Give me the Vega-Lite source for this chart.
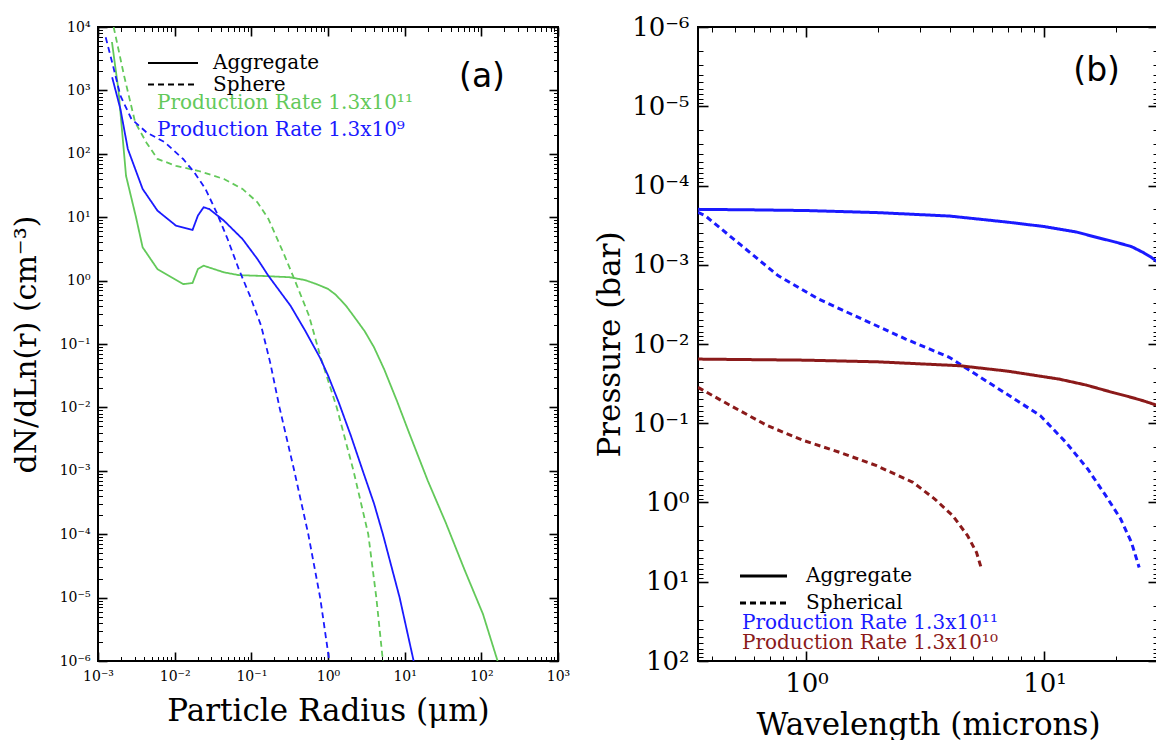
{
  "$schema": "https://vega.github.io/schema/vega-lite/v6.json",
  "background": "white",
  "autosize": {"type": "pad"},
  "padding": {"left": 10, "top": 13, "right": 0, "bottom": 0},
  "spacing": 140,
  "bounds": "flush",
  "datasets": {
    "a": [
      {"r": 0.00152, "n": 5800, "rate": "Production Rate 1.3x10¹¹", "type": "Aggregate"},
      {"r": 0.00185, "n": 1000, "rate": "Production Rate 1.3x10¹¹", "type": "Aggregate"},
      {"r": 0.00219, "n": 100, "rate": "Production Rate 1.3x10¹¹", "type": "Aggregate"},
      {"r": 0.00232, "n": 45, "rate": "Production Rate 1.3x10¹¹", "type": "Aggregate"},
      {"r": 0.00313, "n": 10, "rate": "Production Rate 1.3x10¹¹", "type": "Aggregate"},
      {"r": 0.00382, "n": 3.35, "rate": "Production Rate 1.3x10¹¹", "type": "Aggregate"},
      {"r": 0.00596, "n": 1.52, "rate": "Production Rate 1.3x10¹¹", "type": "Aggregate"},
      {"r": 0.0129, "n": 0.88, "rate": "Production Rate 1.3x10¹¹", "type": "Aggregate"},
      {"r": 0.0171, "n": 0.916, "rate": "Production Rate 1.3x10¹¹", "type": "Aggregate"},
      {"r": 0.0201, "n": 1.52, "rate": "Production Rate 1.3x10¹¹", "type": "Aggregate"},
      {"r": 0.0238, "n": 1.72, "rate": "Production Rate 1.3x10¹¹", "type": "Aggregate"},
      {"r": 0.044, "n": 1.35, "rate": "Production Rate 1.3x10¹¹", "type": "Aggregate"},
      {"r": 0.0686, "n": 1.22, "rate": "Production Rate 1.3x10¹¹", "type": "Aggregate"},
      {"r": 0.15, "n": 1.18, "rate": "Production Rate 1.3x10¹¹", "type": "Aggregate"},
      {"r": 0.316, "n": 1.13, "rate": "Production Rate 1.3x10¹¹", "type": "Aggregate"},
      {"r": 0.5, "n": 1.02, "rate": "Production Rate 1.3x10¹¹", "type": "Aggregate"},
      {"r": 0.708, "n": 0.88, "rate": "Production Rate 1.3x10¹¹", "type": "Aggregate"},
      {"r": 1.0, "n": 0.74, "rate": "Production Rate 1.3x10¹¹", "type": "Aggregate"},
      {"r": 1.26, "n": 0.6, "rate": "Production Rate 1.3x10¹¹", "type": "Aggregate"},
      {"r": 1.72, "n": 0.4, "rate": "Production Rate 1.3x10¹¹", "type": "Aggregate"},
      {"r": 2.24, "n": 0.26, "rate": "Production Rate 1.3x10¹¹", "type": "Aggregate"},
      {"r": 3.0, "n": 0.16, "rate": "Production Rate 1.3x10¹¹", "type": "Aggregate"},
      {"r": 3.98, "n": 0.089, "rate": "Production Rate 1.3x10¹¹", "type": "Aggregate"},
      {"r": 5.4, "n": 0.04, "rate": "Production Rate 1.3x10¹¹", "type": "Aggregate"},
      {"r": 7.94, "n": 0.0126, "rate": "Production Rate 1.3x10¹¹", "type": "Aggregate"},
      {"r": 11.4, "n": 0.004, "rate": "Production Rate 1.3x10¹¹", "type": "Aggregate"},
      {"r": 20, "n": 0.0007, "rate": "Production Rate 1.3x10¹¹", "type": "Aggregate"},
      {"r": 34.5, "n": 0.00015, "rate": "Production Rate 1.3x10¹¹", "type": "Aggregate"},
      {"r": 60, "n": 0.000028, "rate": "Production Rate 1.3x10¹¹", "type": "Aggregate"},
      {"r": 105, "n": 0.0000055, "rate": "Production Rate 1.3x10¹¹", "type": "Aggregate"},
      {"r": 163, "n": 0.000001, "rate": "Production Rate 1.3x10¹¹", "type": "Aggregate"},

      {"r": 0.0016, "n": 10000, "rate": "Production Rate 1.3x10¹¹", "type": "Sphere"},
      {"r": 0.00219, "n": 1700, "rate": "Production Rate 1.3x10¹¹", "type": "Sphere"},
      {"r": 0.00305, "n": 314, "rate": "Production Rate 1.3x10¹¹", "type": "Sphere"},
      {"r": 0.00427, "n": 151, "rate": "Production Rate 1.3x10¹¹", "type": "Sphere"},
      {"r": 0.00596, "n": 83, "rate": "Production Rate 1.3x10¹¹", "type": "Sphere"},
      {"r": 0.0104, "n": 64.6, "rate": "Production Rate 1.3x10¹¹", "type": "Sphere"},
      {"r": 0.0201, "n": 54, "rate": "Production Rate 1.3x10¹¹", "type": "Sphere"},
      {"r": 0.044, "n": 40, "rate": "Production Rate 1.3x10¹¹", "type": "Sphere"},
      {"r": 0.0767, "n": 27.9, "rate": "Production Rate 1.3x10¹¹", "type": "Sphere"},
      {"r": 0.12, "n": 17.2, "rate": "Production Rate 1.3x10¹¹", "type": "Sphere"},
      {"r": 0.167, "n": 9.4, "rate": "Production Rate 1.3x10¹¹", "type": "Sphere"},
      {"r": 0.26, "n": 2.8, "rate": "Production Rate 1.3x10¹¹", "type": "Sphere"},
      {"r": 0.363, "n": 1.06, "rate": "Production Rate 1.3x10¹¹", "type": "Sphere"},
      {"r": 0.565, "n": 0.28, "rate": "Production Rate 1.3x10¹¹", "type": "Sphere"},
      {"r": 0.79, "n": 0.0655, "rate": "Production Rate 1.3x10¹¹", "type": "Sphere"},
      {"r": 1.3, "n": 0.01, "rate": "Production Rate 1.3x10¹¹", "type": "Sphere"},
      {"r": 2.15, "n": 0.001, "rate": "Production Rate 1.3x10¹¹", "type": "Sphere"},
      {"r": 3.35, "n": 0.0001, "rate": "Production Rate 1.3x10¹¹", "type": "Sphere"},
      {"r": 4.27, "n": 0.00001, "rate": "Production Rate 1.3x10¹¹", "type": "Sphere"},
      {"r": 5.2, "n": 0.000001, "rate": "Production Rate 1.3x10¹¹", "type": "Sphere"},

      {"r": 0.00153, "n": 1610, "rate": "Production Rate 1.3x10⁹", "type": "Aggregate"},
      {"r": 0.00196, "n": 509, "rate": "Production Rate 1.3x10⁹", "type": "Aggregate"},
      {"r": 0.00245, "n": 119, "rate": "Production Rate 1.3x10⁹", "type": "Aggregate"},
      {"r": 0.00382, "n": 27.9, "rate": "Production Rate 1.3x10⁹", "type": "Aggregate"},
      {"r": 0.00596, "n": 12.7, "rate": "Production Rate 1.3x10⁹", "type": "Aggregate"},
      {"r": 0.0104, "n": 7.35, "rate": "Production Rate 1.3x10⁹", "type": "Aggregate"},
      {"r": 0.0171, "n": 6.28, "rate": "Production Rate 1.3x10⁹", "type": "Aggregate"},
      {"r": 0.0201, "n": 10.6, "rate": "Production Rate 1.3x10⁹", "type": "Aggregate"},
      {"r": 0.0238, "n": 14.3, "rate": "Production Rate 1.3x10⁹", "type": "Aggregate"},
      {"r": 0.0282, "n": 13.5, "rate": "Production Rate 1.3x10⁹", "type": "Aggregate"},
      {"r": 0.044, "n": 8.8, "rate": "Production Rate 1.3x10⁹", "type": "Aggregate"},
      {"r": 0.0767, "n": 4.53, "rate": "Production Rate 1.3x10⁹", "type": "Aggregate"},
      {"r": 0.12, "n": 2.19, "rate": "Production Rate 1.3x10⁹", "type": "Aggregate"},
      {"r": 0.167, "n": 1.19, "rate": "Production Rate 1.3x10⁹", "type": "Aggregate"},
      {"r": 0.325, "n": 0.4, "rate": "Production Rate 1.3x10⁹", "type": "Aggregate"},
      {"r": 0.507, "n": 0.16, "rate": "Production Rate 1.3x10⁹", "type": "Aggregate"},
      {"r": 0.79, "n": 0.06, "rate": "Production Rate 1.3x10⁹", "type": "Aggregate"},
      {"r": 1.0, "n": 0.032, "rate": "Production Rate 1.3x10⁹", "type": "Aggregate"},
      {"r": 1.38, "n": 0.012, "rate": "Production Rate 1.3x10⁹", "type": "Aggregate"},
      {"r": 2.0, "n": 0.0035, "rate": "Production Rate 1.3x10⁹", "type": "Aggregate"},
      {"r": 2.84, "n": 0.001, "rate": "Production Rate 1.3x10⁹", "type": "Aggregate"},
      {"r": 4.0, "n": 0.0003, "rate": "Production Rate 1.3x10⁹", "type": "Aggregate"},
      {"r": 5.2, "n": 0.0001, "rate": "Production Rate 1.3x10⁹", "type": "Aggregate"},
      {"r": 8.6, "n": 0.00001, "rate": "Production Rate 1.3x10⁹", "type": "Aggregate"},
      {"r": 13.1, "n": 0.000001, "rate": "Production Rate 1.3x10⁹", "type": "Aggregate"},

      {"r": 0.00126, "n": 6880, "rate": "Production Rate 1.3x10⁹", "type": "Sphere"},
      {"r": 0.00157, "n": 2450, "rate": "Production Rate 1.3x10⁹", "type": "Sphere"},
      {"r": 0.00196, "n": 824, "rate": "Production Rate 1.3x10⁹", "type": "Sphere"},
      {"r": 0.00273, "n": 354, "rate": "Production Rate 1.3x10⁹", "type": "Sphere"},
      {"r": 0.00427, "n": 219, "rate": "Production Rate 1.3x10⁹", "type": "Sphere"},
      {"r": 0.00743, "n": 152, "rate": "Production Rate 1.3x10⁹", "type": "Sphere"},
      {"r": 0.0129, "n": 82.8, "rate": "Production Rate 1.3x10⁹", "type": "Sphere"},
      {"r": 0.018, "n": 51, "rate": "Production Rate 1.3x10⁹", "type": "Sphere"},
      {"r": 0.0252, "n": 27.9, "rate": "Production Rate 1.3x10⁹", "type": "Sphere"},
      {"r": 0.0352, "n": 11.9, "rate": "Production Rate 1.3x10⁹", "type": "Sphere"},
      {"r": 0.049, "n": 4.53, "rate": "Production Rate 1.3x10⁹", "type": "Sphere"},
      {"r": 0.0686, "n": 1.52, "rate": "Production Rate 1.3x10⁹", "type": "Sphere"},
      {"r": 0.0957, "n": 0.578, "rate": "Production Rate 1.3x10⁹", "type": "Sphere"},
      {"r": 0.134, "n": 0.195, "rate": "Production Rate 1.3x10⁹", "type": "Sphere"},
      {"r": 0.176, "n": 0.0513, "rate": "Production Rate 1.3x10⁹", "type": "Sphere"},
      {"r": 0.233, "n": 0.01, "rate": "Production Rate 1.3x10⁹", "type": "Sphere"},
      {"r": 0.363, "n": 0.001, "rate": "Production Rate 1.3x10⁹", "type": "Sphere"},
      {"r": 0.553, "n": 0.0001, "rate": "Production Rate 1.3x10⁹", "type": "Sphere"},
      {"r": 0.79, "n": 0.00001, "rate": "Production Rate 1.3x10⁹", "type": "Sphere"},
      {"r": 1.04, "n": 0.000001, "rate": "Production Rate 1.3x10⁹", "type": "Sphere"}
    ],
    "b": [
      {"w": 0.35, "p": 0.0002, "rate": "Production Rate 1.3x10¹¹", "type": "Aggregate"},
      {"w": 0.6, "p": 0.000203, "rate": "Production Rate 1.3x10¹¹", "type": "Aggregate"},
      {"w": 1, "p": 0.000207, "rate": "Production Rate 1.3x10¹¹", "type": "Aggregate"},
      {"w": 2, "p": 0.00022, "rate": "Production Rate 1.3x10¹¹", "type": "Aggregate"},
      {"w": 4, "p": 0.000243, "rate": "Production Rate 1.3x10¹¹", "type": "Aggregate"},
      {"w": 7, "p": 0.00029, "rate": "Production Rate 1.3x10¹¹", "type": "Aggregate"},
      {"w": 10, "p": 0.00033, "rate": "Production Rate 1.3x10¹¹", "type": "Aggregate"},
      {"w": 13.6, "p": 0.000386, "rate": "Production Rate 1.3x10¹¹", "type": "Aggregate"},
      {"w": 17, "p": 0.00046, "rate": "Production Rate 1.3x10¹¹", "type": "Aggregate"},
      {"w": 20, "p": 0.00052, "rate": "Production Rate 1.3x10¹¹", "type": "Aggregate"},
      {"w": 23.2, "p": 0.00059, "rate": "Production Rate 1.3x10¹¹", "type": "Aggregate"},
      {"w": 26, "p": 0.0007, "rate": "Production Rate 1.3x10¹¹", "type": "Aggregate"},
      {"w": 28, "p": 0.0008, "rate": "Production Rate 1.3x10¹¹", "type": "Aggregate"},
      {"w": 30, "p": 0.00093, "rate": "Production Rate 1.3x10¹¹", "type": "Aggregate"},

      {"w": 0.35, "p": 0.000218, "rate": "Production Rate 1.3x10¹¹", "type": "Spherical"},
      {"w": 0.375, "p": 0.00024, "rate": "Production Rate 1.3x10¹¹", "type": "Spherical"},
      {"w": 0.534, "p": 0.000575, "rate": "Production Rate 1.3x10¹¹", "type": "Spherical"},
      {"w": 0.759, "p": 0.00137, "rate": "Production Rate 1.3x10¹¹", "type": "Spherical"},
      {"w": 1.12, "p": 0.0027, "rate": "Production Rate 1.3x10¹¹", "type": "Spherical"},
      {"w": 1.71, "p": 0.00484, "rate": "Production Rate 1.3x10¹¹", "type": "Spherical"},
      {"w": 2.61, "p": 0.00865, "rate": "Production Rate 1.3x10¹¹", "type": "Spherical"},
      {"w": 3.98, "p": 0.0147, "rate": "Production Rate 1.3x10¹¹", "type": "Spherical"},
      {"w": 4.75, "p": 0.0207, "rate": "Production Rate 1.3x10¹¹", "type": "Spherical"},
      {"w": 6.76, "p": 0.0407, "rate": "Production Rate 1.3x10¹¹", "type": "Spherical"},
      {"w": 9.6, "p": 0.08, "rate": "Production Rate 1.3x10¹¹", "type": "Spherical"},
      {"w": 12.3, "p": 0.174, "rate": "Production Rate 1.3x10¹¹", "type": "Spherical"},
      {"w": 15.2, "p": 0.378, "rate": "Production Rate 1.3x10¹¹", "type": "Spherical"},
      {"w": 18.1, "p": 0.82, "rate": "Production Rate 1.3x10¹¹", "type": "Spherical"},
      {"w": 20.9, "p": 1.61, "rate": "Production Rate 1.3x10¹¹", "type": "Spherical"},
      {"w": 23.2, "p": 3.18, "rate": "Production Rate 1.3x10¹¹", "type": "Spherical"},
      {"w": 25.0, "p": 6.6, "rate": "Production Rate 1.3x10¹¹", "type": "Spherical"},

      {"w": 0.35, "p": 0.0155, "rate": "Production Rate 1.3x10¹⁰", "type": "Aggregate"},
      {"w": 1, "p": 0.016, "rate": "Production Rate 1.3x10¹⁰", "type": "Aggregate"},
      {"w": 2, "p": 0.0168, "rate": "Production Rate 1.3x10¹⁰", "type": "Aggregate"},
      {"w": 4.4, "p": 0.0188, "rate": "Production Rate 1.3x10¹⁰", "type": "Aggregate"},
      {"w": 7, "p": 0.022, "rate": "Production Rate 1.3x10¹⁰", "type": "Aggregate"},
      {"w": 11.5, "p": 0.0277, "rate": "Production Rate 1.3x10¹⁰", "type": "Aggregate"},
      {"w": 15, "p": 0.033, "rate": "Production Rate 1.3x10¹⁰", "type": "Aggregate"},
      {"w": 19.4, "p": 0.041, "rate": "Production Rate 1.3x10¹⁰", "type": "Aggregate"},
      {"w": 22.5, "p": 0.046, "rate": "Production Rate 1.3x10¹⁰", "type": "Aggregate"},
      {"w": 26, "p": 0.052, "rate": "Production Rate 1.3x10¹⁰", "type": "Aggregate"},
      {"w": 30, "p": 0.06, "rate": "Production Rate 1.3x10¹⁰", "type": "Aggregate"},

      {"w": 0.35, "p": 0.0353, "rate": "Production Rate 1.3x10¹⁰", "type": "Spherical"},
      {"w": 0.48, "p": 0.06, "rate": "Production Rate 1.3x10¹⁰", "type": "Spherical"},
      {"w": 0.684, "p": 0.107, "rate": "Production Rate 1.3x10¹⁰", "type": "Spherical"},
      {"w": 0.971, "p": 0.165, "rate": "Production Rate 1.3x10¹⁰", "type": "Spherical"},
      {"w": 1.38, "p": 0.233, "rate": "Production Rate 1.3x10¹⁰", "type": "Spherical"},
      {"w": 1.97, "p": 0.343, "rate": "Production Rate 1.3x10¹⁰", "type": "Spherical"},
      {"w": 2.8, "p": 0.556, "rate": "Production Rate 1.3x10¹⁰", "type": "Spherical"},
      {"w": 3.46, "p": 0.904, "rate": "Production Rate 1.3x10¹⁰", "type": "Spherical"},
      {"w": 4.12, "p": 1.47, "rate": "Production Rate 1.3x10¹⁰", "type": "Spherical"},
      {"w": 4.75, "p": 2.62, "rate": "Production Rate 1.3x10¹⁰", "type": "Spherical"},
      {"w": 5.18, "p": 4.26, "rate": "Production Rate 1.3x10¹⁰", "type": "Spherical"},
      {"w": 5.43, "p": 6.78, "rate": "Production Rate 1.3x10¹⁰", "type": "Spherical"}
    ]
  },
  "hconcat": [
    {
      "width": 460,
      "height": 634,
      "data": {"name": "a"},
      "title": {"text": "(a)", "anchor": "end", "frame": "group", "orient": "top", "font": "DejaVu Sans", "fontSize": 33, "fontWeight": "normal", "color": "black", "offset": 0, "baseline": "alphabetic", "dx": -53, "dy": 100},
      "layer": [
        {
          "mark": {"type": "line", "clip": true, "strokeWidth": 1.8},
          "encoding": {
            "x": {
              "field": "r", "type": "quantitative",
              "scale": {"type": "log", "domain": [0.001, 1000], "nice": false},
              "axis": {
                "orient": "bottom", "title": "Particle Radius (μm)", "titleFontSize": 31, "titlePadding": 9,
                "values": [0.001,0.002,0.003,0.004,0.005,0.006,0.007,0.008,0.009,0.01,0.02,0.03,0.04,0.05,0.06,0.07,0.08,0.09,0.1,0.2,0.3,0.4,0.5,0.6,0.7,0.8,0.9,1,2,3,4,5,6,7,8,9,10,20,30,40,50,60,70,80,90,100,200,300,400,500,600,700,800,900,1000],
                "labelExpr": "abs(log(datum.value)/LN10 - round(log(datum.value)/LN10)) < 0.01 ? '10' + replace(replace(replace(replace(replace(replace(replace(replace('' + round(log(datum.value)/LN10), '-', '⁻'), '0', '⁰'), '1', '¹'), '2', '²'), '3', '³'), '4', '⁴'), '5', '⁵'), '6', '⁶') : ''",
                "labelFontSize": 14, "labelPadding": 17,
                "tickSize": {"condition": {"test": "abs(log(datum.value)/LN10 - round(log(datum.value)/LN10)) < 0.01", "value": -9}, "value": -4.5},
                "tickWidth": {"condition": {"test": "abs(log(datum.value)/LN10 - round(log(datum.value)/LN10)) < 0.01", "value": 1.6}, "value": 1}
              }
            },
            "y": {
              "field": "n", "type": "quantitative",
              "scale": {"type": "log", "domain": [0.000001, 10000], "nice": false},
              "axis": {
                "orient": "left", "title": "dN/dLn(r) (cm⁻³)", "titleFontSize": 30, "titlePadding": 18,
                "values": [1e-6,2e-6,3e-6,4e-6,5e-6,6e-6,7e-6,8e-6,9e-6,1e-5,2e-5,3e-5,4e-5,5e-5,6e-5,7e-5,8e-5,9e-5,1e-4,2e-4,3e-4,4e-4,5e-4,6e-4,7e-4,8e-4,9e-4,0.001,0.002,0.003,0.004,0.005,0.006,0.007,0.008,0.009,0.01,0.02,0.03,0.04,0.05,0.06,0.07,0.08,0.09,0.1,0.2,0.3,0.4,0.5,0.6,0.7,0.8,0.9,1,2,3,4,5,6,7,8,9,10,20,30,40,50,60,70,80,90,100,200,300,400,500,600,700,800,900,1000,2000,3000,4000,5000,6000,7000,8000,9000,10000],
                "labelExpr": "abs(log(datum.value)/LN10 - round(log(datum.value)/LN10)) < 0.01 ? '10' + replace(replace(replace(replace(replace(replace(replace(replace('' + round(log(datum.value)/LN10), '-', '⁻'), '0', '⁰'), '1', '¹'), '2', '²'), '3', '³'), '4', '⁴'), '5', '⁵'), '6', '⁶') : ''",
                "labelFontSize": 14, "labelPadding": 17,
                "tickSize": {"condition": {"test": "abs(log(datum.value)/LN10 - round(log(datum.value)/LN10)) < 0.01", "value": -9}, "value": -4.5},
                "tickWidth": {"condition": {"test": "abs(log(datum.value)/LN10 - round(log(datum.value)/LN10)) < 0.01", "value": 1.6}, "value": 1}
              }
            },
            "color": {
              "field": "rate", "type": "nominal",
              "scale": {"domain": ["Production Rate 1.3x10¹¹", "Production Rate 1.3x10⁹"], "range": ["#63c95a", "#1a1aff"]},
              "legend": {"orient": "none", "legendX": 39, "legendY": 66, "title": null, "padding": 0, "symbolOpacity": 0, "symbolSize": 0, "labelOffset": 0, "labelFontSize": 20, "labelLimit": 500, "rowPadding": 6.5,
                "labelColor": {"expr": "indexof(datum.label, '¹¹') >= 0 ? '#63c95a' : '#1a1aff'"}}
            },
            "strokeDash": {
              "field": "type", "type": "nominal",
              "scale": {"domain": ["Aggregate", "Sphere"], "range": [[1, 0], [6, 4]]},
              "legend": {"orient": "none", "legendX": 65, "legendY": 26, "title": null, "padding": 0, "symbolType": "M-5,0H5", "symbolSize": 100, "symbolStrokeWidth": 2, "symbolStrokeColor": "black", "symbolFillColor": "transparent", "labelOffset": 30, "labelFontSize": 20, "labelColor": "black", "rowPadding": 1.5}
            }
          }
        },
        {
          "mark": {"type": "point", "opacity": 0, "clip": true},
          "encoding": {
            "x": {
              "field": "r", "type": "quantitative",
              "scale": {"type": "log", "domain": [0.001, 1000], "nice": false},
              "axis": {
                "orient": "top", "title": null, "labels": false,
                "values": [0.001,0.002,0.003,0.004,0.005,0.006,0.007,0.008,0.009,0.01,0.02,0.03,0.04,0.05,0.06,0.07,0.08,0.09,0.1,0.2,0.3,0.4,0.5,0.6,0.7,0.8,0.9,1,2,3,4,5,6,7,8,9,10,20,30,40,50,60,70,80,90,100,200,300,400,500,600,700,800,900,1000],
                "tickSize": {"condition": {"test": "abs(log(datum.value)/LN10 - round(log(datum.value)/LN10)) < 0.01", "value": -9}, "value": -4.5},
                "tickWidth": {"condition": {"test": "abs(log(datum.value)/LN10 - round(log(datum.value)/LN10)) < 0.01", "value": 1.6}, "value": 1}
              }
            },
            "y": {
              "field": "n", "type": "quantitative",
              "scale": {"type": "log", "domain": [0.000001, 10000], "nice": false},
              "axis": {
                "orient": "right", "title": null, "labels": false,
                "values": [1e-6,2e-6,3e-6,4e-6,5e-6,6e-6,7e-6,8e-6,9e-6,1e-5,2e-5,3e-5,4e-5,5e-5,6e-5,7e-5,8e-5,9e-5,1e-4,2e-4,3e-4,4e-4,5e-4,6e-4,7e-4,8e-4,9e-4,0.001,0.002,0.003,0.004,0.005,0.006,0.007,0.008,0.009,0.01,0.02,0.03,0.04,0.05,0.06,0.07,0.08,0.09,0.1,0.2,0.3,0.4,0.5,0.6,0.7,0.8,0.9,1,2,3,4,5,6,7,8,9,10,20,30,40,50,60,70,80,90,100,200,300,400,500,600,700,800,900,1000,2000,3000,4000,5000,6000,7000,8000,9000,10000],
                "tickSize": {"condition": {"test": "abs(log(datum.value)/LN10 - round(log(datum.value)/LN10)) < 0.01", "value": -9}, "value": -4.5},
                "tickWidth": {"condition": {"test": "abs(log(datum.value)/LN10 - round(log(datum.value)/LN10)) < 0.01", "value": 1.6}, "value": 1}
              }
            }
          }
        }
      ],
      "resolve": {"axis": {"x": "independent", "y": "independent"}}
    },
    {
      "width": 460,
      "height": 634,
      "data": {"name": "b"},
      "title": {"text": "(b)", "anchor": "end", "frame": "group", "orient": "top", "font": "DejaVu Sans", "fontSize": 33, "fontWeight": "normal", "color": "black", "offset": 0, "baseline": "alphabetic", "dx": -38, "dy": 100},
      "layer": [
        {
          "mark": {"type": "line", "clip": true, "strokeWidth": 3},
          "encoding": {
            "x": {
              "field": "w", "type": "quantitative",
              "scale": {"type": "log", "domain": [0.35, 30], "nice": false},
              "axis": {
                "orient": "bottom", "title": "Wavelength (microns)", "titleFontSize": 31, "titlePadding": 9,
                "values": [0.4,0.5,0.6,0.7,0.8,0.9,1,2,3,4,5,6,7,8,9,10,20,30],
                "labelExpr": "abs(log(datum.value)/LN10 - round(log(datum.value)/LN10)) < 0.01 ? '10' + replace(replace(replace(replace(replace(replace(replace(replace('' + round(log(datum.value)/LN10), '-', '⁻'), '0', '⁰'), '1', '¹'), '2', '²'), '3', '³'), '4', '⁴'), '5', '⁵'), '6', '⁶') : ''",
                "labelFontSize": 26, "labelPadding": 19,
                "tickSize": {"condition": {"test": "abs(log(datum.value)/LN10 - round(log(datum.value)/LN10)) < 0.01", "value": -10}, "value": -5},
                "tickWidth": {"condition": {"test": "abs(log(datum.value)/LN10 - round(log(datum.value)/LN10)) < 0.01", "value": 1.6}, "value": 1}
              }
            },
            "y": {
              "field": "p", "type": "quantitative",
              "scale": {"type": "log", "domain": [0.000001, 100], "nice": false, "reverse": true},
              "axis": {
                "orient": "left", "title": "Pressure (bar)", "titleFontSize": 31, "titlePadding": 5,
                "values": [1e-6,2e-6,3e-6,4e-6,5e-6,6e-6,7e-6,8e-6,9e-6,1e-5,2e-5,3e-5,4e-5,5e-5,6e-5,7e-5,8e-5,9e-5,1e-4,2e-4,3e-4,4e-4,5e-4,6e-4,7e-4,8e-4,9e-4,0.001,0.002,0.003,0.004,0.005,0.006,0.007,0.008,0.009,0.01,0.02,0.03,0.04,0.05,0.06,0.07,0.08,0.09,0.1,0.2,0.3,0.4,0.5,0.6,0.7,0.8,0.9,1,2,3,4,5,6,7,8,9,10,20,30,40,50,60,70,80,90,100],
                "labelExpr": "abs(log(datum.value)/LN10 - round(log(datum.value)/LN10)) < 0.01 ? '10' + replace(replace(replace(replace(replace(replace(replace(replace('' + round(log(datum.value)/LN10), '-', '⁻'), '0', '⁰'), '1', '¹'), '2', '²'), '3', '³'), '4', '⁴'), '5', '⁵'), '6', '⁶') : ''",
                "labelFontSize": 26, "labelPadding": 19,
                "tickSize": {"condition": {"test": "abs(log(datum.value)/LN10 - round(log(datum.value)/LN10)) < 0.01", "value": -10}, "value": -5},
                "tickWidth": {"condition": {"test": "abs(log(datum.value)/LN10 - round(log(datum.value)/LN10)) < 0.01", "value": 1.6}, "value": 1}
              }
            },
            "color": {
              "field": "rate", "type": "nominal",
              "scale": {"domain": ["Production Rate 1.3x10¹¹", "Production Rate 1.3x10¹⁰"], "range": ["#1a1aff", "#8b1a1a"]},
              "legend": {"orient": "none", "legendX": 24, "legendY": 586, "title": null, "padding": 0, "symbolOpacity": 0, "symbolSize": 0, "labelOffset": 0, "labelFontSize": 20, "labelLimit": 500, "rowPadding": -4,
                "labelColor": {"expr": "indexof(datum.label, '¹¹') >= 0 ? '#1a1aff' : '#8b1a1a'"}}
            },
            "strokeDash": {
              "field": "type", "type": "nominal",
              "scale": {"domain": ["Aggregate", "Spherical"], "range": [[1, 0], [6, 4]]},
              "legend": {"orient": "none", "legendX": 55.5, "legendY": 539, "title": null, "padding": 0, "symbolType": "M-4.7,0H4.7", "symbolSize": 100, "symbolStrokeWidth": 3, "symbolStrokeColor": "black", "symbolFillColor": "transparent", "labelOffset": 32.5, "labelFontSize": 20, "labelColor": "black", "rowPadding": 7}
            }
          }
        },
        {
          "mark": {"type": "point", "opacity": 0, "clip": true},
          "encoding": {
            "x": {
              "field": "w", "type": "quantitative",
              "scale": {"type": "log", "domain": [0.35, 30], "nice": false},
              "axis": {
                "orient": "top", "title": null, "labels": false,
                "values": [0.4,0.5,0.6,0.7,0.8,0.9,1,2,3,4,5,6,7,8,9,10,20,30],
                "tickSize": {"condition": {"test": "abs(log(datum.value)/LN10 - round(log(datum.value)/LN10)) < 0.01", "value": -10}, "value": -5},
                "tickWidth": {"condition": {"test": "abs(log(datum.value)/LN10 - round(log(datum.value)/LN10)) < 0.01", "value": 1.6}, "value": 1}
              }
            },
            "y": {
              "field": "p", "type": "quantitative",
              "scale": {"type": "log", "domain": [0.000001, 100], "nice": false, "reverse": true},
              "axis": {
                "orient": "right", "title": null, "labels": false,
                "values": [1e-6,2e-6,3e-6,4e-6,5e-6,6e-6,7e-6,8e-6,9e-6,1e-5,2e-5,3e-5,4e-5,5e-5,6e-5,7e-5,8e-5,9e-5,1e-4,2e-4,3e-4,4e-4,5e-4,6e-4,7e-4,8e-4,9e-4,0.001,0.002,0.003,0.004,0.005,0.006,0.007,0.008,0.009,0.01,0.02,0.03,0.04,0.05,0.06,0.07,0.08,0.09,0.1,0.2,0.3,0.4,0.5,0.6,0.7,0.8,0.9,1,2,3,4,5,6,7,8,9,10,20,30,40,50,60,70,80,90,100],
                "tickSize": {"condition": {"test": "abs(log(datum.value)/LN10 - round(log(datum.value)/LN10)) < 0.01", "value": -10}, "value": -5},
                "tickWidth": {"condition": {"test": "abs(log(datum.value)/LN10 - round(log(datum.value)/LN10)) < 0.01", "value": 1.6}, "value": 1}
              }
            }
          }
        }
      ],
      "resolve": {"axis": {"x": "independent", "y": "independent"}}
    }
  ],
  "resolve": {"scale": {"color": "independent", "strokeDash": "independent"}},
  "config": {
    "view": {"stroke": "black", "strokeWidth": 2},
    "axis": {"grid": false, "domain": false, "labelFont": "DejaVu Serif", "titleFont": "DejaVu Serif", "titleFontWeight": "normal", "labelColor": "black", "titleColor": "black", "tickColor": "black", "labelFlush": false, "labelOverlap": false, "labelBound": false},
    "legend": {"labelFont": "DejaVu Serif"},
    "line": {"strokeCap": "butt"}
  }
}
